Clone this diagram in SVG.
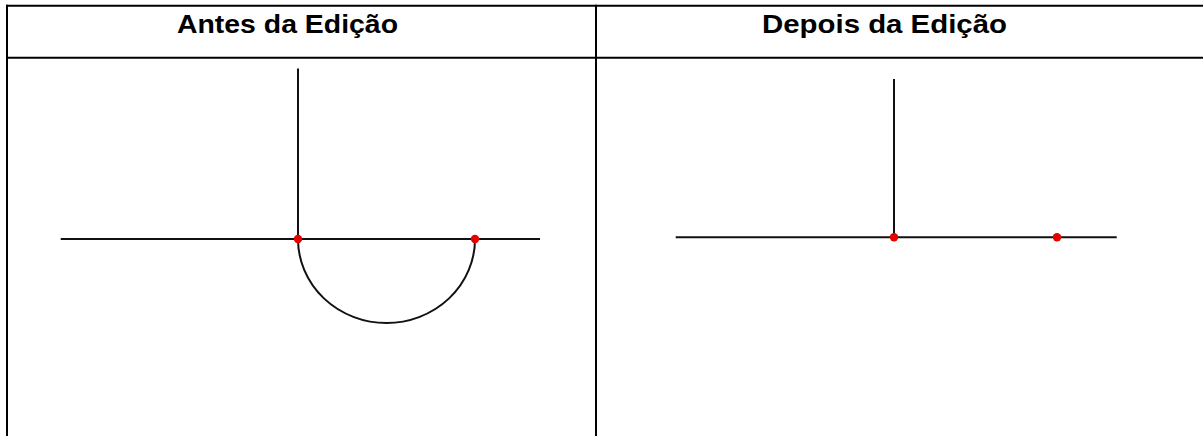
<svg xmlns="http://www.w3.org/2000/svg" width="1203" height="436" viewBox="0 0 1203 436">
<style>
.tbl{stroke:#000;stroke-width:2;fill:none}
.ln{stroke:#111;stroke-width:2;fill:none}
.pt{fill:#e60000}
.hd{font-family:"Liberation Sans",Arial,sans-serif;font-weight:bold;font-size:25px;fill:#000}
</style>
<rect width="1203" height="436" fill="#fff"/>
<g id="table">
<line class="tbl" x1="6" y1="5.8" x2="1203" y2="5.8"/>
<line class="tbl" x1="6" y1="57.7" x2="1203" y2="57.7"/>
<line class="tbl" x1="7" y1="4.8" x2="7" y2="436"/>
<line class="tbl" x1="596" y1="4.8" x2="596" y2="436"/>
</g>
<g id="header-left"><text class="hd" x="177" y="33" textLength="221" lengthAdjust="spacingAndGlyphs">Antes da Edição</text></g>
<g id="header-right"><text class="hd" x="762" y="33" textLength="245" lengthAdjust="spacingAndGlyphs">Depois da Edição</text></g>
<g id="connectors">
<line class="ln" x1="298" y1="68.5" x2="298" y2="239"/>
<line class="ln" x1="60.7" y1="239" x2="540" y2="239"/>
<path class="ln" d="M298,239 A88.5,84 0 0 0 475,239"/>
<line class="ln" x1="894" y1="79" x2="894" y2="237.3"/>
<line class="ln" x1="675.7" y1="237.3" x2="1116.7" y2="237.3"/>
</g>
<g id="node-a1"><circle class="pt" cx="298" cy="239" r="4.2"/></g>
<g id="node-a2"><circle class="pt" cx="475" cy="239" r="4.2"/></g>
<g id="node-b1"><circle class="pt" cx="894" cy="237.3" r="4.2"/></g>
<g id="node-b2"><circle class="pt" cx="1057" cy="237.3" r="4.2"/></g>
</svg>
